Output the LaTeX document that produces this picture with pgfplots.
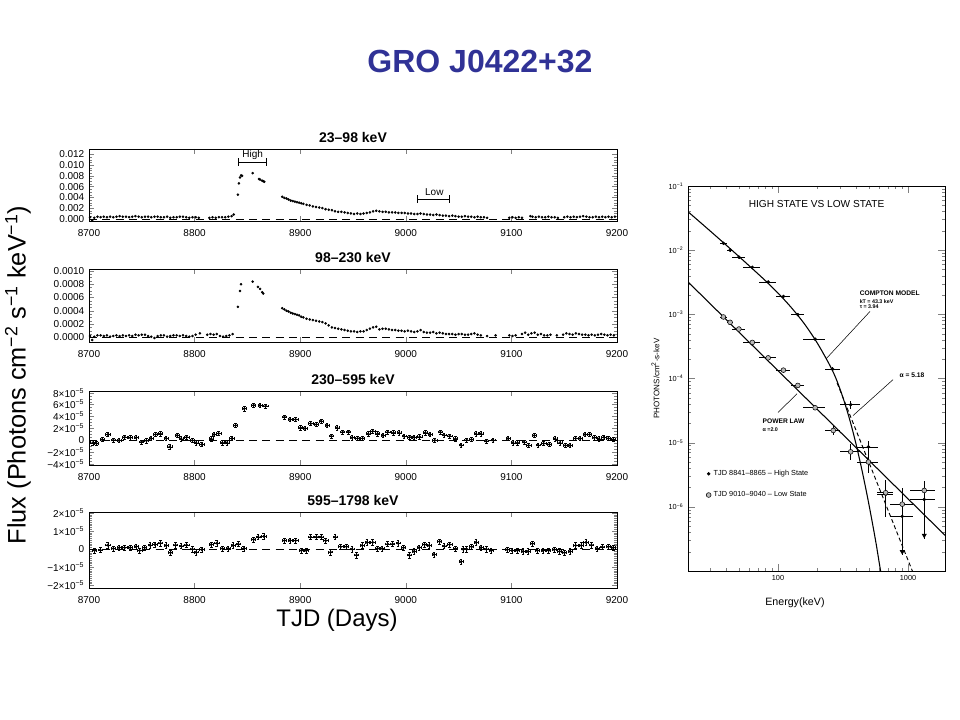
\documentclass[border=0pt]{standalone}
\usepackage{fontspec}
\setmainfont{Liberation Sans}
\usepackage{pgfplots}
\pgfplotsset{compat=1.18}
\definecolor{titleblue}{RGB}{48,50,150}

\pgfplotsset{
  lc/.style={
    scale only axis, width=396pt, anchor=south west,
    xmin=8700, xmax=9200,
    xtick={8700,8800,8900,9000,9100,9200},
    xticklabels={8700,8800,8900,9000,9100,9200},
    tick align=inside, major tick length=4pt, minor tick length=2pt,
    ticklabel style={font=\fontsize{7.5}{8}\selectfont},
    xticklabel style={yshift=-2.5pt},
    title style={font=\fontsize{10.5}{12}\selectfont\bfseries, yshift=-5pt},
    scaled y ticks=false, axis line style={line width=0.6pt},
  },
  zero/.style={black, line width=0.5pt, dash pattern=on 6pt off 4pt},
  pts/.style={only marks, mark=*, mark size=0.75pt, black},
  ebar/.style={only marks, mark=*, mark size=0.8pt, black,
    error bars/.cd, x dir=both, x fixed=2, y dir=both, y fixed=#1,
    error bar style={line width=0.4pt},
    error mark options={rotate=90, mark size=1pt}},
}

\begin{document}
\begin{tikzpicture}
\useasboundingbox (0,0) rectangle (720pt,540pt);

\node[font=\fontsize{24}{28}\selectfont\bfseries, text=titleblue] at (360pt,493.5pt) {GRO J0422+32};
\node[font=\fontsize{19}{22}\selectfont, rotate=90] at (13.5pt,258.75pt)
  {Flux (Photons cm\textsuperscript{−2} s\textsuperscript{−1} keV\textsuperscript{−1})};
\node[font=\fontsize{18}{21}\selectfont] at (252.75pt,75pt) {TJD (Days)};

% 23-98 keV
\begin{axis}[lc, at={(66.75pt,374.25pt)}, height=54pt,
  ymin=-0.0004, ymax=0.013,
  ytick={0,0.002,0.004,0.006,0.008,0.01,0.012},
  yticklabels={0.000,0.002,0.004,0.006,0.008,0.010,0.012},
  minor y tick num=3, title={23–98 keV}]
\addplot[zero] coordinates {(8700,0) (9200,0)};
\addplot[pts] coordinates {
(8701,0.0003) (8703,-0.0003) (8705,0.0002) (8708,0.0004) (8711,0.0003) (8714,0.0004)
(8717,0.0003) (8720,0.0004) (8723,0.0003) (8726,0.0004) (8729,0.0005) (8732,0.0004)
(8735,0.0004) (8738,0.0003) (8741,0.0004) (8744,0.0005) (8747,0.0004) (8750,0.0003)
(8753,0.0004) (8756,0.0004) (8759,0.0003) (8762,0.0004) (8765,0.0004) (8768,0.0003)
(8771,0.0003) (8774,0.0004) (8777,0.0002) (8780,0.0003) (8783,0.0003) (8786,0.0004)
(8789,0.0004) (8792,0.0003) (8795,0.0002) (8798,0.0003) (8801,0.0003) (8804,0.0002)
(8814,0.0002) (8817,0.0003) (8820,0.0002) (8823,0.0003) (8826,0.0003) (8829,0.0003)
(8832,0.0004) (8835,0.0005) (8837,0.0008)
(8841,0.0045) (8842,0.0066) (8843,0.0077) (8844,0.0081) (8845,0.0080) (8855,0.0085)
(8861,0.0074) (8862,0.0073) (8864,0.0071) (8865,0.0070) (8866,0.0069)
(8883,0.0041) (8885,0.0039) (8887,0.0038) (8889,0.0036) (8891,0.0034) (8893,0.0033)
(8895,0.0032) (8897,0.0031) (8899,0.0030) (8901,0.0029) (8903,0.0028) (8906,0.0026)
(8909,0.0025) (8912,0.0023) (8915,0.0022) (8918,0.0021) (8921,0.0020) (8924,0.0018)
(8927,0.0017) (8930,0.0016) (8933,0.0014) (8936,0.0013) (8939,0.0013) (8942,0.0012)
(8945,0.0011) (8948,0.0010) (8951,0.0009) (8954,0.0010) (8957,0.0009) (8960,0.0010)
(8963,0.0011) (8966,0.0012) (8969,0.0014) (8972,0.0015) (8975,0.0014) (8978,0.0013)
(8981,0.0013) (8984,0.0012) (8987,0.0012) (8990,0.0012) (8993,0.0011) (8996,0.0011)
(8999,0.0011) (9002,0.0010) (9005,0.0010) (9008,0.0009) (9011,0.0009) (9014,0.0010)
(9017,0.0009) (9020,0.0008) (9023,0.0008) (9026,0.0007) (9029,0.0008) (9032,0.0007)
(9035,0.0006) (9038,0.0006) (9041,0.0005) (9044,0.0006) (9047,0.0005) (9050,0.0004)
(9053,0.0004) (9056,0.0005) (9059,0.0004) (9062,0.0004) (9065,0.0003) (9068,0.0004)
(9071,0.0003) (9074,0.0003) (9077,0.0002)
(9098,0.0002) (9101,0.0003) (9104,0.0002) (9107,0.0003) (9110,0.0002)
(9118,0.0005) (9120,0.0004) (9123,0.0003) (9126,0.0004) (9129,0.0003) (9132,0.0003)
(9135,0.0004) (9138,0.0003) (9141,0.0003) (9144,0.0002) (9150,0.0003) (9153,0.0004)
(9156,0.0003) (9159,0.0004) (9162,0.0003) (9165,0.0004) (9168,0.0005) (9171,0.0004)
(9174,0.0003) (9177,0.0003) (9180,0.0004) (9183,0.0003) (9186,0.0004) (9189,0.0003)
(9192,0.0004) (9195,0.0003) (9198,0.0004)
};
\draw[|-|, line width=0.5pt] (axis cs:8841,0.0106) -- (axis cs:8868,0.0106);
\node[font=\fontsize{7.5}{8}\selectfont] at (axis cs:8855,0.0119) {High};
\draw[|-|, line width=0.5pt] (axis cs:9011,0.0037) -- (axis cs:9042,0.0037);
\node[font=\fontsize{7.5}{8}\selectfont] at (axis cs:9027,0.0049) {Low};
\end{axis}

% 98-230 keV
\begin{axis}[lc, at={(66.75pt,283.5pt)}, height=54.75pt,
  ymin=-0.00007, ymax=0.00103,
  ytick={0,0.0002,0.0004,0.0006,0.0008,0.001},
  yticklabels={0.0000,0.0002,0.0004,0.0006,0.0008,0.0010},
  minor y tick num=3, title={98–230 keV}]
\addplot[zero] coordinates {(8700,0) (9200,0)};
\addplot[pts] coordinates {
(8701,0.00002) (8703,-0.00004) (8705,0.00001) (8708,0.00003) (8711,0.00003) (8714,0.00002)
(8717,0.00003) (8720,0.00001) (8723,0.00002) (8726,0.00003) (8729,0.00002) (8732,0.00003)
(8735,0.00002) (8738,0.00003) (8741,0.00002) (8744,0.00004) (8747,0.00003) (8750,0.00004)
(8753,0.00004) (8756,0.00002) (8759,0.00001) (8762,-0.00001) (8765,0.00002) (8768,0.00003)
(8771,0.00003) (8774,0.00001) (8777,0.00002) (8780,0.00003) (8783,0.00003) (8786,0.00002)
(8789,0.00003) (8792,0.00002) (8795,0.00001) (8798,0.00002) (8801,0.00004) (8805,0.00006)
(8812,0.00004) (8815,0.00005) (8818,0.00004) (8821,0.00005) (8824,0.00002) (8827,0.00001)
(8830,0.00002) (8833,0.00003) (8836,0.00005)
(8841,0.00046) (8843,0.00070) (8844,0.00080) (8855,0.00084) (8860,0.00076) (8862,0.00073)
(8864,0.00068) (8865,0.00066)
(8883,0.00044) (8885,0.00042) (8887,0.00040) (8889,0.00039) (8891,0.00037) (8893,0.00036)
(8895,0.00035) (8897,0.00034) (8899,0.00033) (8901,0.00031) (8903,0.00030) (8906,0.00028)
(8909,0.00027) (8912,0.00026) (8915,0.00025) (8918,0.00024) (8921,0.00023) (8924,0.00021)
(8927,0.00018) (8930,0.00015) (8933,0.00014) (8936,0.00013) (8939,0.00012) (8942,0.00011)
(8945,0.00010) (8948,0.00009) (8951,0.00009) (8954,0.00008) (8957,0.00009) (8960,0.00009)
(8963,0.00011) (8966,0.00013) (8969,0.00015) (8972,0.00016) (8975,0.00012) (8978,0.00013)
(8981,0.00013) (8984,0.00012) (8987,0.00011) (8990,0.00011) (8993,0.00010) (8996,0.00010)
(8999,0.00009) (9002,0.00010) (9005,0.00009) (9008,0.00008) (9011,0.00009) (9014,0.00011)
(9017,0.00008) (9020,0.00007) (9023,0.00007) (9026,0.00008) (9029,0.00006) (9032,0.00007)
(9035,0.00006) (9038,0.00005) (9041,0.00005) (9044,0.00005) (9047,0.00004) (9050,0.00005)
(9053,0.00005) (9056,0.00004) (9059,0.00004) (9062,0.00005) (9065,0.00006) (9068,0.00004)
(9071,0.00003) (9077,0.00002) (9085,0.00003)
(9098,0.00003) (9101,0.00002) (9104,0.00003) (9110,0.00005) (9113,0.00007) (9116,0.00004)
(9119,0.00006) (9122,0.00007) (9125,0.00004) (9128,0.00005) (9131,0.00003) (9134,0.00003)
(9137,0.00004) (9143,0.00003) (9149,0.00004) (9152,0.00006) (9155,0.00005) (9158,0.00004)
(9161,0.00006) (9164,0.00005) (9167,0.00004) (9170,0.00004) (9173,0.00003) (9176,0.00004)
(9179,0.00003) (9182,0.00004) (9185,0.00005) (9188,0.00004) (9191,0.00003) (9194,0.00004)
(9197,0.00003)
};
\end{axis}

% 230-595 keV
\begin{axis}[lc, at={(66.75pt,191.25pt)}, height=55.5pt,
  ymin=-4.2e-5, ymax=8.3e-5,
  ytick={-4e-5,-2e-5,0,2e-5,4e-5,6e-5,8e-5},
  yticklabels={−4×10\textsuperscript{−5},−2×10\textsuperscript{−5},0,2×10\textsuperscript{−5},4×10\textsuperscript{−5},6×10\textsuperscript{−5},8×10\textsuperscript{−5}},
  minor y tick num=3, title={230–595 keV}]
\addplot[zero] coordinates {(8700,0) (9200,0)};
\addplot[ebar=0.35e-5] coordinates {
(8703.6,-0.45e-5) (8707.1,-0.56e-5) (8712.5,0.1e-5) (8717.8,0.96e-5) (8723.1,0) (8728.5,-0.05e-5)
(8733.8,0.5e-5) (8739.1,0.4e-5) (8744.5,0.4e-5) (8749.8,-0.3e-5) (8754.4,-0.1e-5) (8758.7,0.3e-5)
(8763.0,0.96e-5) (8767.6,1.07e-5) (8773.0,0.3e-5) (8776.5,-1.13e-5) (8783.6,0.8e-5) (8787.2,0.22e-5)
(8792.5,0.5e-5) (8797.9,-0.05e-5) (8801.4,-0.45e-5) (8806.8,-0.73e-5) (8815.7,0.22e-5) (8818.5,0.96e-5)
(8822.8,1.13e-5) (8826.3,-0.45e-5) (8830.6,-0.45e-5) (8835.2,0.28e-5) (8838.8,2.48e-5) (8847.0,5.3e-5)
(8855.9,5.9e-5) (8861.9,5.86e-5) (8867.3,5.75e-5) (8885.1,3.9e-5) (8890.4,3.5e-5) (8895.7,3.5e-5)
(8900.4,2.08e-5) (8904.6,1.97e-5) (8910.0,2.8e-5) (8915.3,2.65e-5) (8919.9,3.2e-5) (8925.3,2.48e-5)
(8929.5,0.68e-5) (8934.9,2.08e-5) (8940.2,1.35e-5) (8945.6,1.4e-5) (8949.1,0.4e-5) (8954.4,0.3e-5)
(8959.1,0.3e-5) (8964.4,1.07e-5) (8968.7,1.5e-5) (8973.3,1.07e-5) (8978.3,0.8e-5) (8982.9,1.35e-5)
(8988.3,1.24e-5) (8993.6,1.24e-5) (8998.2,0.68e-5) (9003.6,0.5e-5) (9007.8,0.5e-5) (9013.2,0.56e-5)
(9018.5,1.24e-5) (9022.8,0.96e-5) (9027.4,-0.05e-5) (9032.7,1.35e-5) (9036.3,0.85e-5) (9041.6,0.68e-5)
(9047.0,0.22e-5) (9052.3,-0.85e-5) (9057.7,0) (9062.3,0.1e-5) (9066.5,1.07e-5) (9071.2,1.07e-5)
(9076.2,-0.17e-5) (9082.6,0) (9096.8,0.28e-5) (9101.4,-0.45e-5) (9105.7,-0.45e-5) (9112.1,-0.34e-5)
(9116.4,-0.9e-5) (9121.7,0.8e-5) (9125.3,-0.85e-5) (9130.6,-0.56e-5) (9136.0,-0.73e-5) (9141.3,0.22e-5)
(9145.9,-0.45e-5) (9151.2,-0.9e-5) (9155.5,-0.9e-5) (9160.9,0.28e-5) (9165.1,0.28e-5) (9169.8,0.96e-5)
(9174.0,0.96e-5) (9178.6,0.4e-5) (9182.9,0.22e-5) (9187.5,0.5e-5) (9191.8,0.28e-5) (9196.4,0.1e-5)
};
\end{axis}

% 595-1798 keV
\begin{axis}[lc, at={(66.75pt,99pt)}, height=57pt,
  ymin=-2.15e-5, ymax=2.05e-5,
  ytick={-2e-5,-1e-5,0,1e-5,2e-5},
  yticklabels={−2×10\textsuperscript{−5},−1×10\textsuperscript{−5},0,1×10\textsuperscript{−5},2×10\textsuperscript{−5}},
  minor y tick num=9, title={595–1798 keV}]
\addplot[zero] coordinates {(8700,0) (9200,0)};
\addplot[ebar=0.15e-5] coordinates {
(8705.3,-0.08e-5) (8710.7,-0.05e-5) (8717.8,0.22e-5) (8723.1,0.03e-5) (8728.5,0.08e-5) (8733.8,0.08e-5)
(8739.1,0.08e-5) (8744.5,0.13e-5) (8748.0,-0.08e-5) (8752.7,0.08e-5) (8757.7,0.22e-5) (8762.3,0.25e-5)
(8767.6,0.33e-5) (8773.0,0.2e-5) (8777.2,-0.2e-5) (8781.9,0.22e-5) (8787.2,0.17e-5) (8792.5,0.23e-5)
(8797.9,0) (8801.4,-0.17e-5) (8806.8,-0.03e-5) (8815.7,0.25e-5) (8821.0,0.33e-5) (8826.3,0.03e-5)
(8831.7,0.03e-5) (8836.3,0.2e-5) (8841.3,0.28e-5) (8846.6,0.03e-5) (8855.9,0.53e-5) (8860.1,0.67e-5)
(8865.5,0.7e-5) (8885.1,0.47e-5) (8890.4,0.47e-5) (8895.7,0.47e-5) (8901.1,-0.08e-5) (8905.7,-0.08e-5)
(8910.0,0.67e-5) (8915.3,0.67e-5) (8919.9,0.67e-5) (8924.2,0.47e-5) (8928.8,-0.17e-5) (8933.1,0.67e-5)
(8938.4,0.13e-5) (8943.8,0.13e-5) (8949.1,0) (8953.4,-0.33e-5) (8958.7,0.2e-5) (8963.3,0.37e-5)
(8968.7,0.37e-5) (8973.3,0.03e-5) (8977.6,0.03e-5) (8982.9,0.28e-5) (8987.5,0.28e-5) (8992.5,0.33e-5)
(8997.9,0.08e-5) (9003.2,-0.33e-5) (9007.8,-0.13e-5) (9012.5,0.08e-5) (9017.8,0.25e-5) (9022.1,0.2e-5)
(9026.7,-0.3e-5) (9032.0,0.42e-5) (9036.3,0.17e-5) (9041.6,0.25e-5) (9047.0,0.03e-5) (9052.3,-0.7e-5)
(9054.1,0) (9057.7,0) (9062.3,0.13e-5) (9066.5,0.37e-5) (9071.2,0.08e-5) (9076.2,0)
(9080.8,-0.08e-5) (9096.1,-0.03e-5) (9100.4,-0.08e-5) (9105.7,-0.08e-5) (9111.0,-0.13e-5) (9115.7,-0.13e-5)
(9119.9,0.3e-5) (9124.6,-0.08e-5) (9129.9,-0.08e-5) (9135.2,-0.08e-5) (9140.6,-0.03e-5) (9145.6,-0.13e-5)
(9150.2,-0.2e-5) (9155.5,-0.13e-5) (9160.9,0.2e-5) (9166.2,0.2e-5) (9170.5,0.37e-5) (9175.8,0.22e-5)
(9181.1,0.03e-5) (9186.1,0.12e-5) (9191.8,0.13e-5) (9196.4,0.08e-5)
};
\end{axis}

% spectrum
\begin{axis}[scale only axis, at={(516pt,111.75pt)}, anchor=south west,
  width=192.75pt, height=288.75pt,
  xmode=log, ymode=log, xmin=20.3, xmax=1926, ymin=1e-7, ymax=1e-1,
  xtick={100,1000}, xticklabels={100,1000},
  minor xtick={30,40,50,60,70,80,90,200,300,400,500,600,700,800,900},
  ytick={1e-6,1e-5,1e-4,1e-3,1e-2,1e-1},
  yticklabels={10\textsuperscript{−6},10\textsuperscript{−5},10\textsuperscript{−4},10\textsuperscript{−3},10\textsuperscript{−2},10\textsuperscript{−1}},
  minor ytick={2e-7,3e-7,4e-7,5e-7,6e-7,7e-7,8e-7,9e-7,
    2e-6,3e-6,4e-6,5e-6,6e-6,7e-6,8e-6,9e-6,
    2e-5,3e-5,4e-5,5e-5,6e-5,7e-5,8e-5,9e-5,
    2e-4,3e-4,4e-4,5e-4,6e-4,7e-4,8e-4,9e-4,
    2e-3,3e-3,4e-3,5e-3,6e-3,7e-3,8e-3,9e-3,
    2e-2,3e-2,4e-2,5e-2,6e-2,7e-2,8e-2,9e-2},
  tick align=inside, major tick length=5pt, minor tick length=2.5pt,
  ticklabel style={font=\fontsize{5.5}{6}\selectfont},
  xlabel={Energy(keV)}, ylabel={PHOTONS/cm\textsuperscript{2}-s-keV},
  xlabel style={font=\fontsize{8}{9}\selectfont, at={(axis description cs:0.416,-0.083)}, anchor=center},
  ylabel style={font=\fontsize{6}{7}\selectfont},
  axis line style={line width=0.6pt},
  legend style={at={(0.07,0.225)}, anchor=west, draw=none, fill=none,
    font=\fontsize{5.5}{6}\selectfont, row sep=6.5pt, inner sep=0pt},
  legend cell align=left]
\addplot[only marks, mark=*, mark size=1.1pt, black,
  error bars/.cd, x dir=both, x explicit relative, y dir=both, y explicit,
  error bar style={line width=0.5pt}, error mark=none]
  table[x=E, y=F, x error=ex, y error plus=ep, y error minus=em] {
E     F       ex    ep       em
38    1.28e-2 0.065 6e-4     6e-4
42.8  1.0e-2  0.06  5e-4     5e-4
50    7.8e-3  0.11  4e-4     4e-4
63.4  5.4e-3  0.15  3e-4     3e-4
84    3.2e-3  0.15  1.6e-4   1.6e-4
110   1.9e-3  0.13  1e-4     1e-4
142   9.9e-4  0.12  5e-5     5e-5
193   4.1e-4  0.19  2e-5     2e-5
263   1.4e-4  0.13  1.1e-5   1.1e-5
362   3.9e-5  0.17  5e-6     5e-6
496   8.6e-6  0.19  1.9e-6   3.3e-6
673   1.56e-6 0.14  1.1e-6   8.7e-7
903   7.1e-7  0.2   1.29e-6  5.3e-7
1333  1.3e-6  0.22  1.2e-6   9.8e-7
};
\addlegendentry{TJD 8841–8865 – High State}
\addplot[only marks, mark=*, mark size=1.8pt, mark options={fill=gray!55, draw=black},
  error bars/.cd, x dir=both, x explicit relative, y dir=both, y explicit,
  error bar style={line width=0.5pt, black}, error mark=none]
  table[x=E, y=F, x error=ex, y error plus=ep, y error minus=em] {
E     F       ex    ep       em
38    9.1e-4  0.065 4e-5     4e-5
42.8  7.5e-4  0.06  3e-5     3e-5
50    5.9e-4  0.11  3e-5     3e-5
63.4  3.65e-4 0.15  2e-5     2e-5
84    2.1e-4  0.15  1e-5     1e-5
110   1.35e-4 0.13  7e-6     7e-6
142   7.8e-5  0.12  4e-6     4e-6
193   3.5e-5  0.19  2e-6     2e-6
266   1.55e-5 0.13  2.5e-6   2.5e-6
362   7.2e-6  0.17  2.2e-6   1.9e-6
496   5.0e-6  0.19  2.3e-6   1.6e-6
673   1.66e-6 0.14  5e-7     5e-7
903   1.1e-6  0.2   3e-7     3e-7
1333  1.8e-6  0.22  3e-7     3e-7
};
\addlegendentry{TJD 9010–9040 – Low State}
\addplot[only marks, mark=triangle*, mark size=1.8pt, mark options={rotate=180, fill=black}, forget plot]
  coordinates {(903,2.0e-7) (1333,3.6e-7)};
% Compton model
\addplot[black, line width=0.8pt, smooth, forget plot] coordinates {
(20.28,3.98e-2) (31.62,1.82e-2) (50.12,7.94e-3) (79.43,3.39e-3) (100,2.14e-3)
(125.9,1.29e-3) (158.5,7.24e-4) (199.5,3.63e-4) (251.2,1.585e-4) (281.8,9.55e-5)
(316.2,5.01e-5) (354.8,2.34e-5) (398.1,9.55e-6) (446.7,3.39e-6) (501.2,1.07e-6)
(562.3,3.02e-7) (609.5,1.12e-7) (616.6,1.0e-7)};
% power law, low state
\addplot[black, line width=0.8pt, forget plot] coordinates {(20.3,3.2e-3) (1926,3.6e-7)};
% alpha = 5.18
\addplot[black, line width=0.7pt, dash pattern=on 3pt off 2pt, forget plot] coordinates {(285,8.5e-5) (1080,1.0e-7)};

\node[font=\fontsize{7.6}{8}\selectfont] at (rel axis cs:0.5,0.953) {HIGH STATE VS LOW STATE};
\node[font=\fontsize{5}{6}\selectfont\bfseries, anchor=west] at (rel axis cs:0.65,0.722) {COMPTON MODEL};
\node[font=\fontsize{4}{5}\selectfont\bfseries, anchor=west] at (rel axis cs:0.65,0.701) {kT = 43.3 keV};
\node[font=\fontsize{4}{5}\selectfont\bfseries, anchor=west] at (rel axis cs:0.65,0.686) {τ = 3.94};
\node[font=\fontsize{5}{6}\selectfont\bfseries, anchor=west] at (rel axis cs:0.805,0.509) {α = 5.18};
\node[font=\fontsize{5}{6}\selectfont\bfseries, anchor=west] at (rel axis cs:0.272,0.388) {POWER LAW};
\node[font=\fontsize{4}{5}\selectfont\bfseries, anchor=west] at (rel axis cs:0.272,0.366) {α =2.0};
\draw[line width=0.4pt] (axis cs:510,1.11e-3) -- (axis cs:234,2.02e-4);
\draw[line width=0.4pt] (axis cs:767,9.6e-5) -- (axis cs:378,2.65e-5);
\draw[line width=0.4pt] (axis cs:100,2.95e-5) -- (axis cs:140,5.8e-5);
\end{axis}
\end{tikzpicture}
\end{document}
